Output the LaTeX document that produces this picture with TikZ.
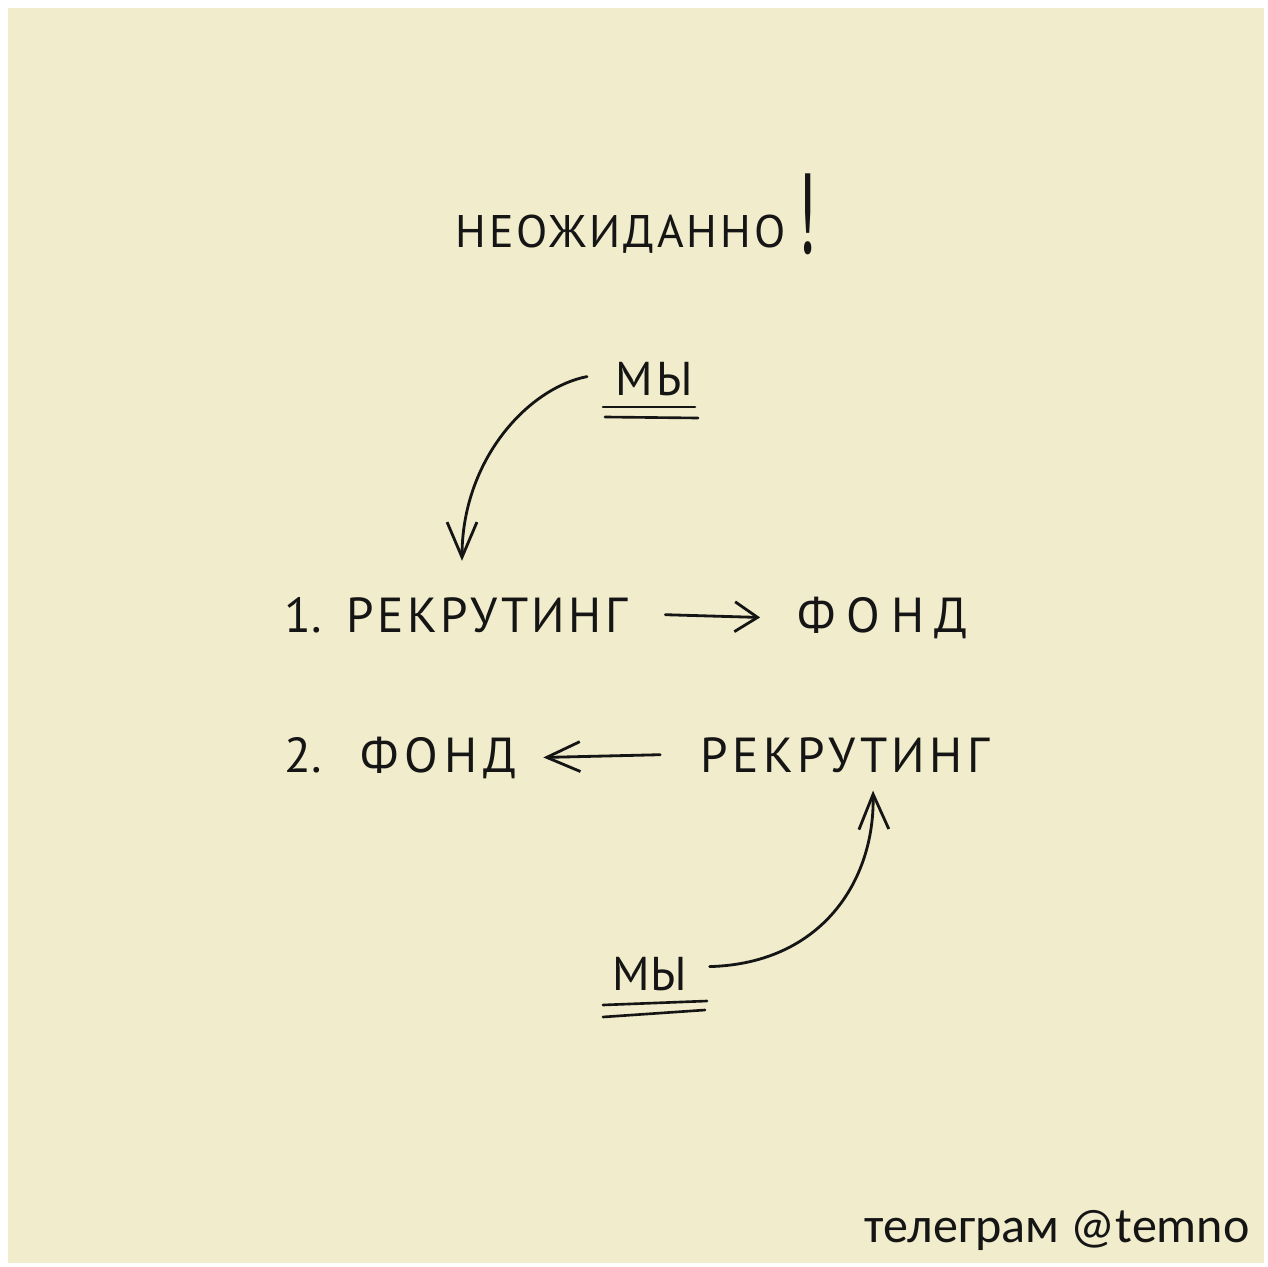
\documentclass[tikz,border=0pt]{standalone}
\usepackage{fontspec}
\setmainfont{PT Sans}
\newfontfamily\signfont{Carlito}
\usetikzlibrary{arrows.meta,calc}
\definecolor{paper}{HTML}{F1ECCB}
\definecolor{ink}{HTML}{151515}

% letter-spaced word of a given tracking
\newcommand{\spaced}[2]{{\addfontfeatures{LetterSpace=#1}#2}}

\tikzset{
  word/.style={inner sep=0pt, anchor=base west, text=ink},
  bigword/.style={word, font=\fontsize{28}{30}\selectfont},
  titleword/.style={word, font=\fontsize{26}{28}\selectfont},
  weword/.style={word, font=\fontsize{27}{29}\selectfont},
  penline/.style={draw=ink, line width=1.6pt, line cap=round, line join=round},
  arr/.style={penline, -{Straight Barb[length=#1pt, width=17pt, line width=1.6pt]}},
  arr/.default=18,
  underline/.style={draw=ink, line width=1.5pt, line cap=round},
}

\begin{document}
\begin{tikzpicture}[x=0.02cm, y=-0.02cm]
  % page and paper sheet
  \useasboundingbox (0,0) rectangle (1268,1267);
  \fill[white] (0,0) rectangle (1268,1267);
  \fill[paper] (8,8) rectangle (1264,1263);

  % heading
  \node[titleword] (title) at (455,248) {\spaced{6.5}{НЕОЖИДАННО}};
  \node[word, font=\fontsize{36}{38}\selectfont] (excl) at (797,254) {\scalebox{1}[1.8]{!}};

  % top "we"
  \node[weword] (mytop) at (615,395) {\spaced{8}{МЫ}};
  \draw[underline] ($(mytop.base west)+(-12,12)$) -- ($(mytop.base west)+(80,12)$);
  \draw[underline] ($(mytop.base west)+(-10,22)$) -- ($(mytop.base west)+(83,23)$);

  % row 1
  \node[bigword] (n1) at (284,632) {1.};
  \node[bigword] (rec1) at (346,632) {\spaced{7}{РЕКРУТИНГ}};
  \node[bigword] (fond1) at (797,632) {\spaced{22}{ФОНД}};

  % row 2
  \node[bigword] (n2) at (284,772) {2.};
  \node[bigword] (fond2) at (360,772) {\spaced{12}{ФОНД}};
  \node[bigword] (rec2) at (700,772) {\spaced{9}{РЕКРУТИНГ}};

  % bottom "we"
  \node[weword] (mybot) at (612,990) {\spaced{2}{МЫ}};
  \draw[underline] ($(mybot.base west)+(-9,15)$) -- ($(mybot.base west)+(95,11)$);
  \draw[underline] ($(mybot.base west)+(-9,27)$) -- ($(mybot.base west)+(93,20)$);

  % signature
  \node[word, anchor=base east, font=\signfont\fontsize{28.5}{30}\selectfont] (sign) at (1250,1242) {телеграм @temno};

  % arrow tips that land above the words
  \coordinate (tip1) at ($(rec1.north west)+(116,-36)$);
  \coordinate (tip2) at ($(rec2.south west)+(173,18)$);

  % connectors
  \draw[arr=20] ($(mytop.west)+(-28,-2)$) .. controls +(-60,12) and +(0,-100) .. (tip1);
  \draw[arr=13] ([xshift=38*0.567pt]rec1.east) -- ([xshift=-37*0.567pt]fond1.west);
  \draw[arr=19] ([xshift=-40*0.567pt]rec2.west) -- ([xshift=27*0.567pt]fond2.east);
  \draw[arr=20] ($(mybot.east)+(22,-7)$) .. controls +(112,-3) and +(2,90) .. (tip2);
\end{tikzpicture}
\end{document}
